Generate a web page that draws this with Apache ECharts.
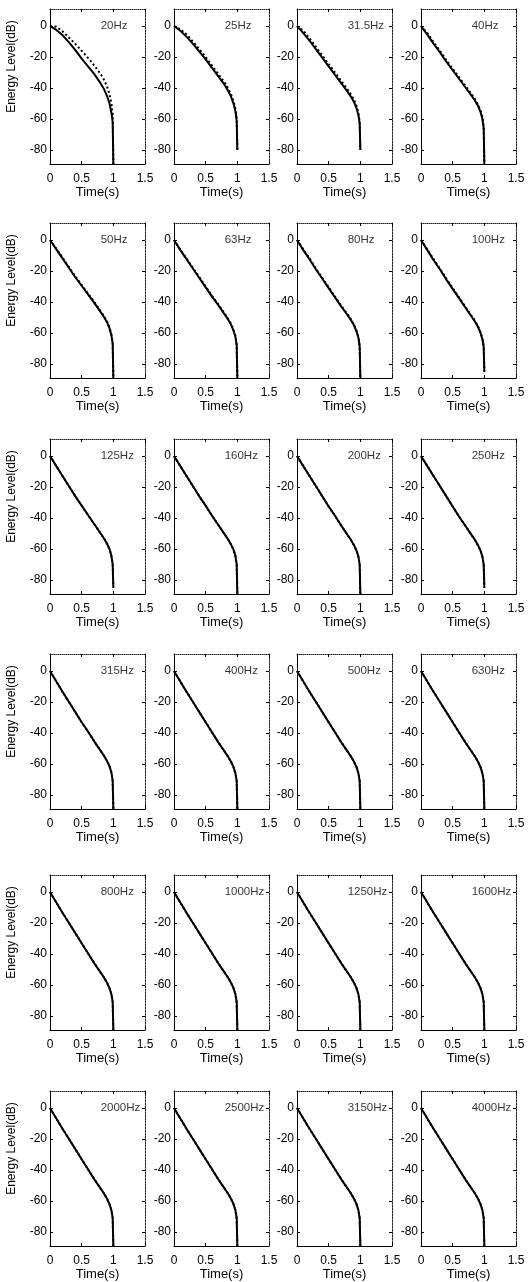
<!DOCTYPE html>
<html>
<head>
<meta charset="utf-8">
<script src="https://cdn.jsdelivr.net/npm/echarts@6/dist/echarts.min.js"></script>
<style>
  html, body { margin: 0; padding: 0; background: #fff; }
  #chart { width: 531px; height: 1282px; }
</style>
</head>
<body>
<div id="chart"></div>
<script>
var bands = ['20Hz', '25Hz', '31.5Hz', '40Hz', '50Hz', '63Hz', '80Hz', '100Hz',
  '125Hz', '160Hz', '200Hz', '250Hz', '315Hz', '400Hz', '500Hz', '630Hz',
  '800Hz', '1000Hz', '1250Hz', '1600Hz', '2000Hz', '2500Hz', '3150Hz', '4000Hz'];

// time samples (s) shared by every panel
var times = [0, 0.1, 0.2, 0.3, 0.4, 0.5, 0.6, 0.7, 0.8, 0.85, 0.9, 0.94, 0.97, 0.99, 1];

// solid curve, dB, one row per band
var solidDb = [
  [0, -2.5, -6, -10.5, -15.5, -21, -26, -31, -37, -40.5, -45, -50, -56, -62, -89],
  [0, -3, -7, -11.5, -16.5, -21.5, -27, -32.5, -38, -41.5, -45.5, -50, -55, -61, -80],
  [0, -4.5, -9.5, -15, -20.5, -26, -31.5, -37, -42.5, -45.5, -49, -53, -57.5, -63, -80],
  [0, -5.5, -11.5, -17, -23, -28.5, -34, -39.5, -45, -48, -51.5, -55.5, -60, -66, -89],
  [0, -6, -12, -18, -24, -29.5, -35, -40.5, -46.5, -49.5, -53, -57, -61.5, -67, -89],
  [0, -6.5, -12.5, -18.5, -24.5, -30.5, -36.5, -42, -48, -51, -54.5, -58.5, -62.5, -68, -89],
  [0, -6.5, -12.5, -19, -25, -31, -37, -43, -48.5, -51.5, -55, -59, -63, -69, -89],
  [0, -6.5, -13, -19, -25.5, -31.5, -37.5, -43.5, -49.5, -52.5, -56, -60, -64, -69, -85],
  [0, -6.5, -13, -19.5, -26, -32, -38, -44, -50, -53, -56.5, -60, -64.5, -70, -85],
  [0, -6.5, -13, -19.5, -26, -32, -38.5, -44.5, -50.5, -53.5, -57, -60.5, -64.5, -70, -89],
  [0, -6.5, -13, -19.5, -26, -32.5, -38.5, -45, -51, -54, -57.5, -61, -65, -70, -89],
  [0, -6.5, -13, -19.5, -26, -32.5, -39, -45, -51, -54, -57.5, -61, -65, -70, -85],
  [0, -6.8, -13.5, -20, -26.5, -33, -39, -45.5, -51.5, -54.5, -58, -61.5, -65.5, -71, -89],
  [0, -6.8, -13.5, -20, -26.5, -33, -39.5, -46, -52, -55, -58.5, -62, -66, -71, -89],
  [0, -6.8, -13.5, -20, -26.5, -33, -39.5, -46, -52, -55, -58.5, -62, -66, -71, -89],
  [0, -6.8, -13.5, -20, -26.5, -33, -39.5, -46, -52, -55, -58.5, -62, -66, -71, -89],
  [0, -6.8, -13.5, -20, -26.5, -33, -39.5, -46, -52, -55, -58.5, -62, -66, -71, -89],
  [0, -6.8, -13.5, -20, -26.5, -33, -39.5, -46, -52, -55, -58.5, -62, -66, -71, -89],
  [0, -6.8, -13.5, -20, -26.5, -33, -39.5, -46, -52, -55, -58.5, -62, -66, -71, -89],
  [0, -6.8, -13.5, -20, -26.5, -33, -39.5, -46, -52, -55, -58.5, -62, -66, -71, -89],
  [0, -6.8, -13.5, -20, -26.5, -33, -39.5, -46, -52, -55, -58.5, -62, -66, -71, -89],
  [0, -6.8, -13.5, -20, -26.5, -33, -39.5, -46, -52, -55, -58.5, -62, -66, -71, -89],
  [0, -6.8, -13.5, -20, -26.5, -33, -39.5, -46, -52, -55, -58.5, -62, -66, -71, -89],
  [0, -6.8, -13.5, -20, -26.5, -33, -39.5, -46, -52, -55, -58.5, -62, -66, -71, -89]
];

// dotted curve, dB, one row per band
var dottedDb = [
  [0, -0.5, -3.5, -7.5, -11.5, -16, -20.5, -25.5, -31, -34.5, -39, -44, -50, -57, -89],
  [0, -2, -5.5, -10, -15, -20, -25.5, -31, -36.5, -40, -44, -48.5, -53.5, -60, -80],
  [0, -3, -8, -13.5, -19, -24.5, -30, -35.5, -41, -44, -47.5, -51.5, -56, -62, -80],
  [0, -4.5, -10.5, -16, -22, -27.5, -33, -38.5, -44, -47, -50.5, -54.5, -59, -65, -89],
  [0, -5.5, -11.5, -17.5, -23.5, -29, -34.5, -40, -46, -49, -52.5, -56.5, -61, -66.5, -89],
  [0, -6, -12, -18, -24, -30, -36, -41.5, -47.5, -50.5, -54, -58, -62, -67.5, -89],
  [0, -6, -12, -18.5, -24.5, -30.5, -36.5, -42.5, -48, -51, -54.5, -58.5, -62.5, -68.5, -89],
  [0, -6, -12.5, -18.5, -25, -31, -37, -43, -49, -52, -55.5, -59.5, -63.5, -68.5, -85],
  [0, -6.5, -13, -19.5, -26, -32, -38, -44, -50, -53, -56.5, -60, -64.5, -70, -85],
  [0, -6.5, -13, -19.5, -26, -32, -38.5, -44.5, -50.5, -53.5, -57, -60.5, -64.5, -70, -89],
  [0, -6.5, -13, -19.5, -26, -32.5, -38.5, -45, -51, -54, -57.5, -61, -65, -70, -89],
  [0, -6.5, -13, -19.5, -26, -32.5, -39, -45, -51, -54, -57.5, -61, -65, -70, -85],
  [0, -6.8, -13.5, -20, -26.5, -33, -39, -45.5, -51.5, -54.5, -58, -61.5, -65.5, -71, -89],
  [0, -6.8, -13.5, -20, -26.5, -33, -39.5, -46, -52, -55, -58.5, -62, -66, -71, -89],
  [0, -6.8, -13.5, -20, -26.5, -33, -39.5, -46, -52, -55, -58.5, -62, -66, -71, -89],
  [0, -6.8, -13.5, -20, -26.5, -33, -39.5, -46, -52, -55, -58.5, -62, -66, -71, -89],
  [0, -6.8, -13.5, -20, -26.5, -33, -39.5, -46, -52, -55, -58.5, -62, -66, -71, -89],
  [0, -6.8, -13.5, -20, -26.5, -33, -39.5, -46, -52, -55, -58.5, -62, -66, -71, -89],
  [0, -6.8, -13.5, -20, -26.5, -33, -39.5, -46, -52, -55, -58.5, -62, -66, -71, -89],
  [0, -6.8, -13.5, -20, -26.5, -33, -39.5, -46, -52, -55, -58.5, -62, -66, -71, -89],
  [0, -6.8, -13.5, -20, -26.5, -33, -39.5, -46, -52, -55, -58.5, -62, -66, -71, -89],
  [0, -6.8, -13.5, -20, -26.5, -33, -39.5, -46, -52, -55, -58.5, -62, -66, -71, -89],
  [0, -6.8, -13.5, -20, -26.5, -33, -39.5, -46, -52, -55, -58.5, -62, -66, -71, -89],
  [0, -6.8, -13.5, -20, -26.5, -33, -39.5, -46, -52, -55, -58.5, -62, -66, -71, -89]
];

var yTicks = [-80, -60, -40, -20, 0];

var chart = echarts.init(document.getElementById('chart'), null, { renderer: 'canvas' });

var colLeft = [50, 174, 297, 421];
var rowTop = [9, 223, 439, 654, 875, 1091];
var boxW = 95, boxH = 155;
var font = "'Liberation Sans', Arial, sans-serif";

var grids = [], xAxes = [], yAxes = [], series = [];

bands.forEach(function (band, i) {
  var r = Math.floor(i / 4), c = i % 4;
  grids.push({ left: colLeft[c], top: rowTop[r], width: boxW, height: boxH });

  var tick = { show: true, inside: true, length: 3, lineStyle: { color: '#000' } };
  // bottom / top
  xAxes.push({
    type: 'value', gridIndex: i, position: 'bottom', min: 0, max: 1.5, interval: 0.5,
    axisLine: { onZero: false, lineStyle: { color: '#000', width: 1 } },
    axisTick: tick,
    axisLabel: { color: '#000', fontSize: 12, fontFamily: font, margin: 9 },
    splitLine: { show: false },
    name: 'Time(s)', nameLocation: 'middle', nameGap: 21,
    nameTextStyle: { color: '#000', fontSize: 13, fontFamily: font }
  });
  xAxes.push({
    type: 'value', gridIndex: i, position: 'top', min: 0, max: 1.5, interval: 0.5,
    axisLine: { show: true, onZero: false, lineStyle: { color: '#222', width: 1, type: [1, 1] } },
    axisTick: tick, axisLabel: { show: false }, splitLine: { show: false }
  });
  // left / right
  yAxes.push({
    type: 'value', gridIndex: i, position: 'left', min: -89, max: 11,
    axisLine: { show: true, onZero: false, lineStyle: { color: '#000', width: 1 } },
    axisTick: { show: true, inside: true, length: 3, customValues: yTicks, lineStyle: { color: '#000' } },
    axisLabel: { color: '#000', fontSize: 12, fontFamily: font, margin: 3, customValues: yTicks },
    splitLine: { show: false },
    name: c === 0 ? 'Energy Level(dB)' : '', nameLocation: 'middle', nameGap: 32,
    nameTextStyle: { color: '#000', fontSize: 12, fontFamily: font, padding: [0, 0, 0, 40] }
  });
  yAxes.push({
    type: 'value', gridIndex: i, position: 'right', min: -89, max: 11,
    axisLine: { show: true, onZero: false, lineStyle: { color: '#222', width: 1, type: [2, 1] } },
    axisTick: { show: true, inside: true, length: 3, customValues: yTicks, lineStyle: { color: '#000' } },
    axisLabel: { show: false }, splitLine: { show: false }
  });

  series.push({
    type: 'line', xAxisIndex: 2 * i, yAxisIndex: 2 * i,
    data: times.map(function (t, k) { return [t, dottedDb[i][k]]; }),
    showSymbol: false, clip: true, silent: true,
    lineStyle: { color: '#000', width: 2, type: [2, 2.5] }
  });
  series.push({
    type: 'line', xAxisIndex: 2 * i, yAxisIndex: 2 * i,
    data: times.map(function (t, k) { return [t, solidDb[i][k]]; }),
    showSymbol: false, clip: true, silent: true,
    lineStyle: { color: '#000', width: 2 }
  });
  series.push({
    type: 'scatter', xAxisIndex: 2 * i, yAxisIndex: 2 * i,
    data: [[0.8, 0]], symbolSize: 0, silent: true, z: 5,
    label: {
      show: true, position: [0, 0], align: 'left', verticalAlign: 'middle',
      formatter: band, color: '#000', fontSize: 11.5, fontFamily: font
    }
  });
});

chart.setOption({
  backgroundColor: '#fff',
  animation: false,
  grid: grids,
  xAxis: xAxes,
  yAxis: yAxes,
  series: series
});
</script>
</body>
</html>
